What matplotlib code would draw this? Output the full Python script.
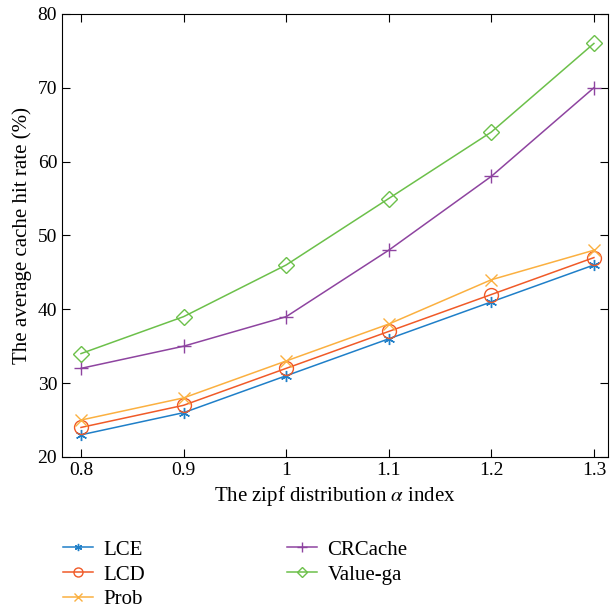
import matplotlib.pyplot as plt

plt.rcParams['font.family'] = ['Liberation Serif', 'DejaVu Serif']
plt.rcParams['mathtext.fontset'] = 'stix'

# zipf alpha values and hit rates (%)
alpha = [0.8, 0.9, 1.0, 1.1, 1.2, 1.3]
lce = [23, 26, 31, 36, 41, 46]
lcd = [24, 27, 32, 37, 42, 47]
prob = [25, 28, 33, 38, 44, 48]
crcache = [32, 35, 39, 48, 58, 70]
value_ga = [34, 39, 46, 55, 64, 76]

fig = plt.figure(figsize=(6.14, 6.12), dpi=100)
ax = fig.add_axes([0.101, 0.2533, 0.889, 0.724])

ax.plot(alpha, lce, '-', color='#1f7fc8', marker=(6, 2, 0), markersize=8, lw=1.1, label='LCE')
ax.plot(alpha, lcd, '-', color='#f05a28', marker='o', markerfacecolor='none', markersize=10, lw=1.1, label='LCD')
ax.plot(alpha, prob, '-', color='#fbb040', marker='x', markersize=8, lw=1.1, label='Prob')
ax.plot(alpha, crcache, '-', color='#8e44a0', marker='+', markersize=10, lw=1.1, label='CRCache')
ax.plot(alpha, value_ga, '-', color='#6cc04a', marker='D', markerfacecolor='none', markersize=8, lw=1.1, label='Value-ga')

ax.set_xlim(0.7815, 1.3136)
ax.set_ylim(20, 80)
ax.set_xticks(alpha)
ax.set_xticklabels(['0.8', '0.9', '1', '1.1', '1.2', '1.3'])
ax.set_yticks([20, 30, 40, 50, 60, 70, 80])
ax.tick_params(direction='in', top=True, right=True, labelsize=14, length=6)
ax.set_xlabel(r'The zipf distribution $\alpha$ index', fontsize=15)
ax.set_ylabel('The average cache hit rate (%)', fontsize=15)

fig.legend(loc='upper left', bbox_to_anchor=(0.072, 0.148), ncol=2, frameon=False,
           fontsize=15, handlelength=1.45, handletextpad=0.5, columnspacing=6.8,
           labelspacing=0.25, markerscale=0.65)

fig.savefig('out.png', dpi=100)
